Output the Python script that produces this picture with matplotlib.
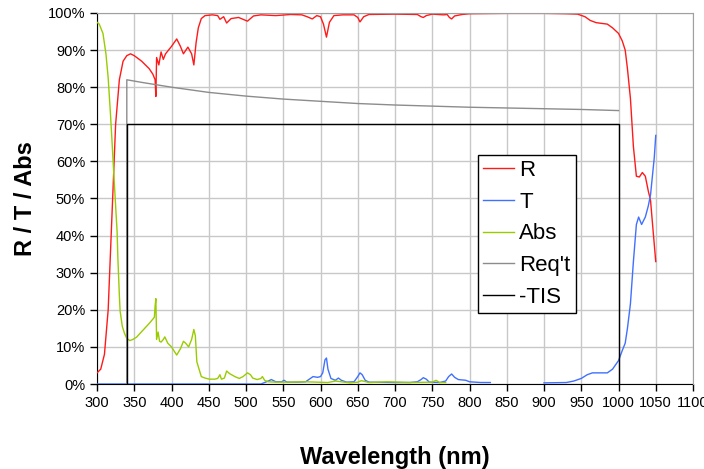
import numpy as np
import matplotlib
matplotlib.use("Agg")
import matplotlib.pyplot as plt
from matplotlib.ticker import PercentFormatter

plt.rcParams['font.family'] = ['Liberation Sans', 'DejaVu Sans']

# R (reflectance), %
r_wl = [300, 305, 310, 315, 320, 325, 330, 335, 340, 345, 350, 360, 370, 375, 378, 379,
        380, 383, 386, 389, 392, 400, 407, 412, 416, 422, 427, 430, 433, 436, 440, 445,
        455, 462, 465, 470, 474, 480, 490, 502, 510, 520, 540, 560, 575, 582, 589, 595,
        600, 604, 608, 612, 618, 630, 645, 650, 653, 658, 665, 700, 730, 735, 738, 742,
        750, 765, 770, 773, 776, 780, 790, 800, 850, 900, 930, 945, 955, 962, 970, 985,
        992, 1000, 1005, 1009, 1012, 1016, 1020, 1024, 1028, 1032, 1036, 1040, 1043, 1047, 1050]
r_val = [3, 4, 8, 20, 45, 70, 82, 87, 88.5, 89, 88.5, 87, 85, 83.5, 82, 77.5,
         88, 86, 89.5, 87.5, 89, 91, 93, 91, 89, 90.8, 89, 86, 92, 96, 98.5, 99.3,
         99.5, 99.3, 98.3, 99, 97.3, 98.5, 98.8, 97.8, 99.2, 99.5, 99.3, 99.6, 99.5, 99, 98.4, 99.3,
         99, 97, 93.5, 97.5, 99.3, 99.5, 99.5, 98.8, 97.6, 99, 99.6, 99.7, 99.6, 99, 98.8, 99.3,
         99.7, 99.5, 99.6, 98.8, 98.4, 99.2, 99.6, 99.8, 99.9, 99.9, 99.8, 99.7, 99, 98, 97.4, 97,
         96, 94.5, 92.5, 90, 85, 77, 64, 56, 55.8, 57, 56, 52, 49.5, 40, 33]

# T (transmittance), %  (nan = no data drawn)
t_wl = [300, 520, 530, 534, 540, 548, 551, 555, 570, 580, 590, 596, 600, 603, 606, 608,
        610, 614, 620, 624, 628, 635, 645, 650, 653, 656, 660, 665, 700, 720, 730, 735,
        738, 742, 746, 760, 768, 772, 776, 780, 785, 795, 800, 815, 828, 829, 899, 900,
        930, 940, 950, 958, 965, 985, 992, 1000, 1005, 1009, 1012, 1016, 1020, 1024, 1027,
        1031, 1036, 1040, 1043, 1048, 1050]
t_val = [0, 0, 0.8, 1.2, 0.6, 0.6, 1, 0.5, 0.5, 0.6, 2, 1.8, 2, 3, 6.5, 7,
         4, 1.5, 1, 1.6, 1, 0.5, 0.6, 2, 3, 2.5, 1, 0.5, 0.4, 0.4, 0.6, 1.2,
         1.7, 1.3, 0.5, 0.4, 0.8, 2, 2.7, 1.8, 1.2, 1, 0.6, 0.4, 0.4, np.nan, np.nan, 0.3,
         0.4, 0.8, 1.5, 2.5, 3, 3, 4, 6.3, 9, 11, 15, 21.6, 33, 43, 45,
         43, 45, 48, 51, 61, 67]

# Abs, %
a_wl = [300, 303, 308, 312, 315, 318, 320, 323, 327, 328, 330, 331, 334, 337, 340, 344,
        348, 353, 358, 364, 370, 375, 377, 378, 379, 380, 382, 384, 386, 389, 391, 395,
        400, 407, 412, 416, 419, 423, 427, 430, 432, 434, 437, 440, 445, 451, 458, 462,
        465, 467, 471, 474, 478, 485, 491, 496, 502, 506, 509, 515, 520, 522, 525, 530,
        540, 560, 580, 610, 620, 640, 650, 655, 665, 690, 720, 750, 755, 760, 768]
a_val = [97.5, 97, 94.5, 89, 82.5, 73, 66, 55, 41, 34, 24, 19.7, 15.5, 13.6, 12.3, 11.7,
         12, 12.6, 13.7, 15, 16.3, 17.5, 18, 21, 23, 12, 14, 11.5, 11.3, 12, 12.7, 11,
         10, 7.8, 9.5, 11.5, 11, 10, 12, 14.7, 13, 6, 4, 2, 1.6, 1.3, 1.3, 1.5,
         2.5, 1.3, 1.6, 3.5, 2.8, 2, 1.5, 2, 3, 2.5, 1.6, 1.2, 1.5, 2, 1, 0.6,
         0.5, 0.5, 0.6, 0.4, 0.8, 0.3, 0.5, 0.9, 0.4, 0.6, 0.4, 0.5, 1, 0.4, 0.4]

# Req't, %
req_wl = [340, 340, 360, 400, 450, 500, 550, 600, 650, 700, 750, 800, 850, 900, 950, 1000]
req_val = [0, 82, 81.3, 80, 78.6, 77.6, 76.8, 76.2, 75.6, 75.2, 74.9, 74.6, 74.4, 74.2, 74, 73.7]

# -TIS box, %
tis_wl = [340, 340, 1000, 1000]
tis_val = [0, 70, 70, 0]

fig = plt.figure(figsize=(7.04, 4.69), dpi=100)
ax = fig.add_axes([97 / 704, 85 / 469, 596 / 704, 371 / 469])

ax.plot(r_wl, r_val, color='#ff1a1a', lw=1.0, label='R')
ax.plot(t_wl, t_val, color='#4070ff', lw=1.0, label='T')
ax.plot(a_wl, a_val, color='#99cc00', lw=1.0, label='Abs')
ax.plot(req_wl, req_val, color='#8c8c8c', lw=1.0, label="Req't")
ax.plot(tis_wl, tis_val, color='#000000', lw=1.0, label='-TIS')

ax.set_xlim(300, 1100)
ax.set_ylim(0, 100)
ax.set_xticks(np.arange(300, 1101, 50))
ax.set_yticks(np.arange(0, 101, 10))
ax.yaxis.set_major_formatter(PercentFormatter(decimals=0))
ax.tick_params(direction='out', length=5, width=1, labelsize=10.5, colors='black')
ax.grid(True, color='#c8c8c8', lw=1)
ax.set_axisbelow(True)

for s in ('top', 'right'):
    ax.spines[s].set_color('#a0a0a0')
for s in ('left', 'bottom'):
    ax.spines[s].set_color('black')
    ax.spines[s].set_zorder(1.5)

ax.set_xlabel('Wavelength (nm)', fontsize=17, fontweight='bold', labelpad=26)
ax.set_ylabel('R / T / Abs', fontsize=17, fontweight='bold', labelpad=8)

leg = ax.legend(loc='upper left', bbox_to_anchor=(0.639, 0.617), fontsize=16,
                frameon=True, fancybox=False, edgecolor='black', framealpha=1,
                handlelength=1.4, handletextpad=0.25, labelspacing=0.48,
                borderpad=0.22, borderaxespad=0)
leg.get_frame().set_linewidth(1.0)

fig.savefig('out.png', dpi=100)
